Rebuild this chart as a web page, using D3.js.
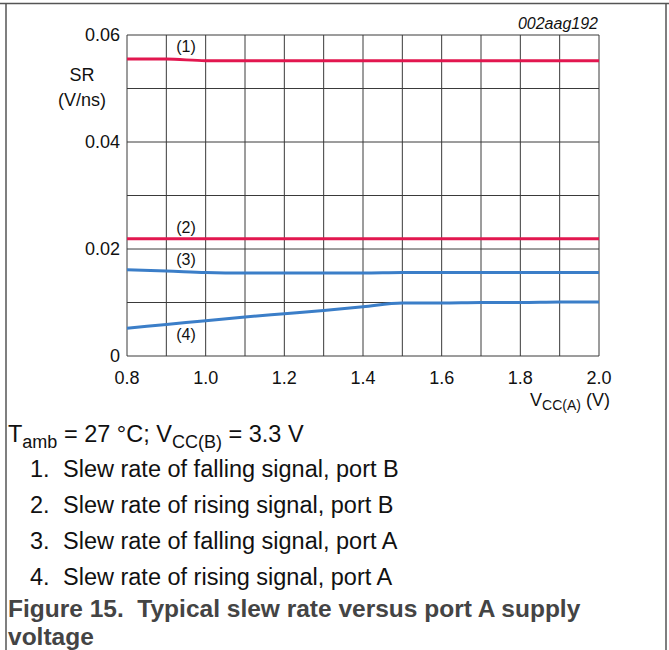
<!DOCTYPE html>
<html><head><meta charset="utf-8">
<script src="https://cdn.jsdelivr.net/npm/d3@7"></script>
<style>body{margin:0;background:#fff}svg{display:block;font-family:"Liberation Sans",Arial,sans-serif}</style>
</head><body>
<script>
const xValues = [0.8,0.9,1.0,1.1,1.2,1.3,1.4,1.5,1.6,1.7,1.8,1.9,2.0];
const series1 = [0.0555,0.0555,0.0552,0.0552,0.0552,0.0552,0.0552,0.0552,0.0552,0.0552,0.0552,0.0552,0.0552];
const series2 = [0.0219,0.0219,0.0219,0.0219,0.0219,0.0219,0.0219,0.0219,0.0219,0.0219,0.0219,0.0219,0.0219];
const series3 = [0.0161,0.0159,0.0156,0.0155,0.0155,0.0155,0.0155,0.0156,0.0156,0.0156,0.0156,0.0156,0.0156];
const series4 = [0.0052,0.0059,0.0066,0.0073,0.0079,0.0085,0.0092,0.0099,0.0099,0.0100,0.0100,0.0101,0.0101];
const seriesLabels = ["(1)","(2)","(3)","(4)"];
const labelY = [0.0578,0.0240,0.0180,0.0040];
const xTicks = [0.8,1.0,1.2,1.4,1.6,1.8,2.0];
const xTickLabels = ["0.8","1.0","1.2","1.4","1.6","1.8","2.0"];
const yTicks = [0,0.02,0.04,0.06];
const yTickLabels = ["0","0.02","0.04","0.06"];
const notes = ["Slew rate of falling signal, port B","Slew rate of rising signal, port B","Slew rate of falling signal, port A","Slew rate of rising signal, port A"];

const W=669,H=650;
const svg=d3.select("body").append("svg").attr("width",W).attr("height",H);
// frame
svg.append("line").attr("x1",0).attr("x2",W).attr("y1",3.5).attr("y2",3.5).attr("stroke","#555").attr("stroke-width",1.5);
svg.append("line").attr("x1",6).attr("x2",6).attr("y1",3).attr("y2",H).attr("stroke","#555").attr("stroke-width",1.5);
svg.append("line").attr("x1",666).attr("x2",666).attr("y1",3).attr("y2",H).attr("stroke","#555").attr("stroke-width",1.5);

const x=d3.scaleLinear().domain([0.8,2.0]).range([127,599]);
const y=d3.scaleLinear().domain([0,0.06]).range([356,35]);

const g=svg.append("g");
g.selectAll(".vg").data(xValues).enter().append("line")
 .attr("x1",d=>x(d)).attr("x2",d=>x(d)).attr("y1",y(0)).attr("y2",y(0.06))
 .attr("stroke","#3a3a3a").attr("stroke-width",1);
g.selectAll(".hg").data(d3.range(7).map(i=>i*0.01)).enter().append("line")
 .attr("x1",x(0.8)).attr("x2",x(2.0)).attr("y1",d=>y(d)).attr("y2",d=>y(d))
 .attr("stroke","#3a3a3a").attr("stroke-width",1);

// axes tick labels
const fs=18;
g.selectAll(".yt").data(yTicks).enter().append("text")
 .attr("x",120).attr("y",d=>y(d)).attr("dy","0.35em").attr("text-anchor","end")
 .attr("font-size",fs).attr("fill","#111").text((d,i)=>yTickLabels[i]);
g.selectAll(".xt").data(xTicks).enter().append("text")
 .attr("x",d=>x(d)).attr("y",378).attr("dy","0.35em").attr("text-anchor","middle")
 .attr("font-size",fs).attr("fill","#111").text((d,i)=>xTickLabels[i]);
svg.append("text").attr("x",82).attr("y",75).attr("dy","0.35em").attr("text-anchor","middle").attr("font-size",fs).attr("fill","#111").text("SR");
svg.append("text").attr("x",82).attr("y",100).attr("dy","0.35em").attr("text-anchor","middle").attr("font-size",fs).attr("fill","#111").text("(V/ns)");
const xt=svg.append("text").attr("x",610).attr("y",400).attr("dy","0.35em").attr("text-anchor","end").attr("font-size",fs).attr("fill","#111");
xt.append("tspan").text("V");
xt.append("tspan").attr("font-size",14).attr("dy",4).text("CC(A)");
xt.append("tspan").attr("dy",-4).text(" (V)");
svg.append("text").attr("x",598).attr("y",29).attr("text-anchor","end").attr("font-size",16).attr("font-style","italic").attr("fill","#111").text("002aag192");

// lines
const line=d3.line().x((d,i)=>x(xValues[i])).y(d=>y(d)).curve(d3.curveMonotoneX);
const colors=["#e2174f","#e2174f","#3b7ec8","#3b7ec8"];
[series1,series2,series3,series4].forEach((s,i)=>{
  g.append("path").attr("d",line(s)).attr("fill","none").attr("stroke",colors[i]).attr("stroke-width",3);
});
g.selectAll(".sl").data(seriesLabels).enter().append("text")
 .attr("x",x(0.95)).attr("y",(d,i)=>y(labelY[i])).attr("dy","0.35em").attr("text-anchor","middle")
 .attr("font-size",16).attr("fill","#111").text(d=>d);

// notes
const nfs=23.5;
const tn=svg.append("text").attr("x",8).attr("y",442).attr("font-size",nfs).attr("fill","#111");
tn.append("tspan").text("T");
tn.append("tspan").attr("font-size",18).attr("dy",6).text("amb");
tn.append("tspan").attr("dy",-6).text(" = 27 °C; V");
tn.append("tspan").attr("font-size",18).attr("dy",6).text("CC(B)");
tn.append("tspan").attr("dy",-6).text(" = 3.3 V");
notes.forEach((n,i)=>{
  svg.append("text").attr("x",30).attr("y",477+i*36).attr("font-size",nfs).attr("fill","#111").text((i+1)+".");
  svg.append("text").attr("x",63).attr("y",477+i*36).attr("font-size",nfs).attr("fill","#111").text(n);
});
svg.append("text").attr("x",8).attr("y",617).attr("font-size",24.5).attr("font-weight","bold").attr("fill","#444").attr("xml:space","preserve").text("Figure 15.  Typical slew rate versus port A supply");
svg.append("text").attr("x",8).attr("y",645).attr("font-size",24.5).attr("font-weight","bold").attr("fill","#444").text("voltage");
</script>
</body></html>
